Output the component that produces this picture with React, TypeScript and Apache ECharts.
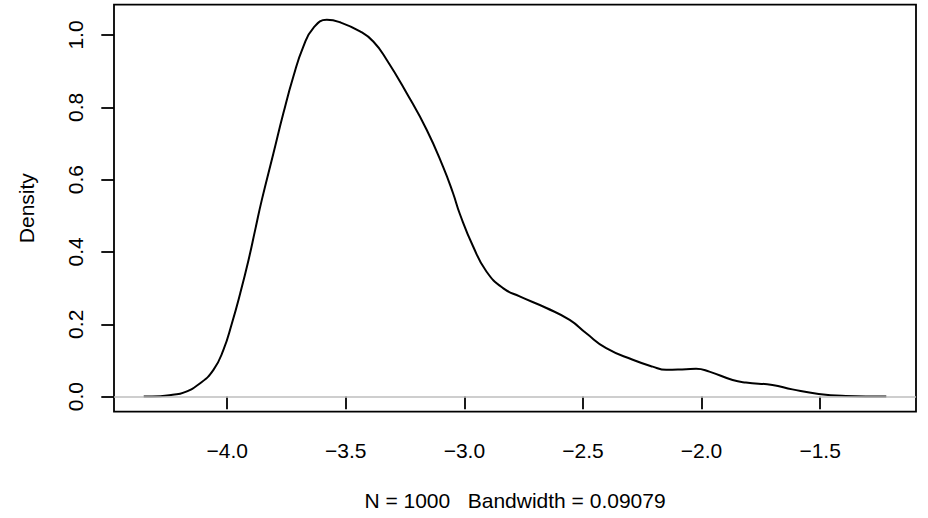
import React, { useEffect, useRef } from "react";
import * as echarts from "echarts";

const densityX = [
  -4.352, -4.282, -4.23, -4.184, -4.114, -4.058, -4.016, -3.98, -3.945, -3.91,
  -3.882, -3.854, -3.805, -3.763, -3.721, -3.679, -3.637, -3.58, -3.524, -3.44,
  -3.384, -3.327, -3.243, -3.159, -3.09, -3.048, -3.019, -2.963, -2.907, -2.837,
  -2.767, -2.654, -2.556, -2.486, -2.402, -2.29, -2.206, -2.149, -2.065, -2.023,
  -1.967, -1.869, -1.813, -1.701, -1.617, -1.506, -1.392, -1.221,
];
const densityY = [
  0, 0.001, 0.005, 0.011, 0.037, 0.074, 0.129, 0.203, 0.286, 0.378,
  0.461, 0.544, 0.673, 0.784, 0.885, 0.968, 1.019, 1.042, 1.035, 1.01,
  0.982, 0.931, 0.839, 0.738, 0.636, 0.563, 0.505, 0.415, 0.346, 0.3,
  0.277, 0.245, 0.212, 0.175, 0.134, 0.102, 0.083, 0.074, 0.076, 0.077,
  0.069, 0.046, 0.039, 0.032, 0.02, 0.0075, 0.002, 0,
];
const xTicks = [-4.0, -3.5, -3.0, -2.5, -2.0, -1.5];
const yTicks = [0, 0.2, 0.4, 0.6, 0.8, 1.0];
const xTitle = "N = 1000\u00a0\u00a0\u00a0Bandwidth = 0.09079";
const yTitle = "Density";

const FONT = "'Liberation Sans', Arial, Helvetica, sans-serif";
const fmt = (v: number) => v.toFixed(1).replace("-", "\u2212");

export default function App() {
  const ref = useRef<HTMLDivElement>(null);
  useEffect(() => {
    if (!ref.current) return;
    const chart = echarts.init(ref.current, undefined, { renderer: "svg" });
    const data = densityX.map((x, i) => [x, densityY[i]]);
    chart.setOption({
      animation: false,
      backgroundColor: "#fff",
      grid: {
        left: 114,
        right: 12,
        top: 4.7,
        bottom: 106.3,
        show: true,
        borderColor: "#000",
        borderWidth: 1.8,
        backgroundColor: "transparent",
      },
      xAxis: {
        type: "value",
        min: -4.4773,
        max: -1.0957,
        name: xTitle,
        nameLocation: "middle",
        nameGap: 78,
        nameTextStyle: { color: "#000", fontSize: 21, fontFamily: FONT },
        axisLine: { show: false },
        splitLine: { show: false },
        axisTick: {
          show: true,
          length: 12.7,
          lineStyle: { color: "#000", width: 1.8 },
          customValues: xTicks,
        },
        axisLabel: {
          color: "#000",
          fontSize: 21,
          fontFamily: FONT,
          margin: 28,
          customValues: xTicks,
          formatter: (v: number) => fmt(v),
        },
      },
      yAxis: {
        type: "value",
        min: -0.0417,
        max: 1.0837,
        name: yTitle,
        nameLocation: "middle",
        nameGap: 77,
        nameRotate: 90,
        nameTextStyle: { color: "#000", fontSize: 21, fontFamily: FONT },
        axisLine: { show: false },
        splitLine: { show: false },
        axisTick: {
          show: true,
          length: 12.7,
          lineStyle: { color: "#000", width: 1.8 },
          customValues: yTicks,
        },
        axisLabel: {
          color: "#000",
          fontSize: 21,
          fontFamily: FONT,
          margin: 28,
          rotate: 90,
          customValues: yTicks,
          formatter: (v: number) => fmt(v),
        },
      },
      series: [
        {
          type: "line",
          data,
          smooth: 0.5,
          symbol: "none",
          lineStyle: { color: "#000", width: 2 },
          markLine: {
            silent: true,
            symbol: "none",
            label: { show: false },
            lineStyle: { color: "#BEBEBE", width: 1.5, type: "solid" },
            data: [{ yAxis: 0 }],
          },
        },
      ],
    });
    return () => chart.dispose();
  }, []);
  return <div ref={ref} style={{ width: 928, height: 518, position: "absolute", left: 0, top: 0 }} />;
}
